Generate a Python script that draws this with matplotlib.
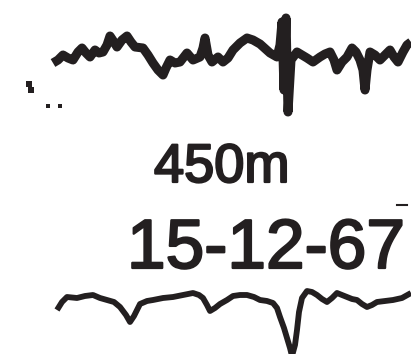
import matplotlib
matplotlib.use("Agg")
from matplotlib import pyplot as plt
from matplotlib import patheffects as pe

# upper trace (450 m record)
top_x = [53, 58, 63, 68, 73, 78, 82, 86, 90, 95, 99, 103, 107, 110, 114, 117,
         122, 127, 131, 135, 143, 148, 153, 158, 163, 166, 170, 175, 180,
         187, 193, 200, 203, 205, 208, 212, 218, 223, 228, 233, 240, 247,
         253, 260, 270, 277, 280, 282, 284, 286, 288, 291, 297, 302, 307,
         313, 320, 325, 330, 334, 337, 342, 347, 352, 356, 360, 363, 365,
         367, 370, 375, 380, 385, 390, 394, 398, 403, 407, 411]
top_y = [63, 60, 55, 58, 60, 52, 48, 53, 57, 50, 53, 52, 45, 36, 42, 47,
         40, 36, 42, 47, 48, 55, 63, 70, 75, 68, 60, 63, 62,
         53, 60, 57, 48, 38, 55, 62, 57, 62, 58, 50, 43, 38,
         40, 44, 53, 57, 45, 22, 90, 18, 112, 60, 52, 55, 58,
         62, 57, 54, 52, 60, 70, 62, 57, 48, 52, 60, 70, 90,
         70, 52, 55, 60, 55, 50, 57, 62, 52, 45, 42]

# lower trace (15-12-67 record)
bot_x = [57, 62, 67, 77, 85, 93, 100, 107, 114, 120, 126, 130, 134, 140,
         147, 153, 163, 173, 183, 193, 199, 203, 207, 210, 215, 220, 227,
         233, 240, 247, 254, 260, 267, 273, 277, 280, 284, 287, 290, 292,
         295, 297, 299, 302, 307, 312, 317, 322, 327, 332, 337, 342, 347,
         352, 357, 362, 367, 372, 377, 385, 393, 402, 411]
bot_y = [310, 302, 297, 298, 296, 295, 298, 300, 302, 307, 315, 322, 316, 304,
         301, 300, 298, 297, 295, 293, 295, 298, 305, 311, 308, 304, 300,
         296, 295, 295, 297, 300, 301, 303, 308, 317, 328, 338, 348, 356,
         345, 330, 312, 298, 291, 292, 295, 299, 302, 298, 293, 295, 297,
         299, 300, 304, 307, 305, 302, 301, 300, 298, 293]

# stray specks at the left
dot_x = [29, 31, 48, 60]
dot_y = [84, 90, 106, 106]
dot_s = [25, 25, 10, 10]

ink = "#231f20"

fig = plt.figure(figsize=(4.11, 3.54), dpi=100)
ax = fig.add_axes([0, 0, 1, 1])
ax.set_xlim(0, 411)
ax.set_ylim(354, 0)
ax.axis("off")

ax.plot(top_x, top_y, color=ink, lw=6.5, solid_joinstyle="round",
        solid_capstyle="butt")
ax.plot(bot_x, bot_y, color=ink, lw=4.2, solid_joinstyle="round",
        solid_capstyle="butt")
ax.scatter(dot_x, dot_y, s=dot_s, color=ink, marker="s", lw=0)

thicken = [pe.withStroke(linewidth=1.6, foreground=ink)]
ax.text(154, 182, "450m", fontsize=39,
        family=["Liberation Sans", "DejaVu Sans"], color=ink,
        ha="left", va="baseline", path_effects=thicken)
ax.text(127, 268, "15-12-67", fontsize=50,
        family=["Liberation Sans", "DejaVu Sans"], color=ink,
        ha="left", va="baseline", path_effects=thicken)
ax.plot([397, 407], [205, 205], color=ink, lw=1.5)

fig.savefig("out.png", dpi=100)
